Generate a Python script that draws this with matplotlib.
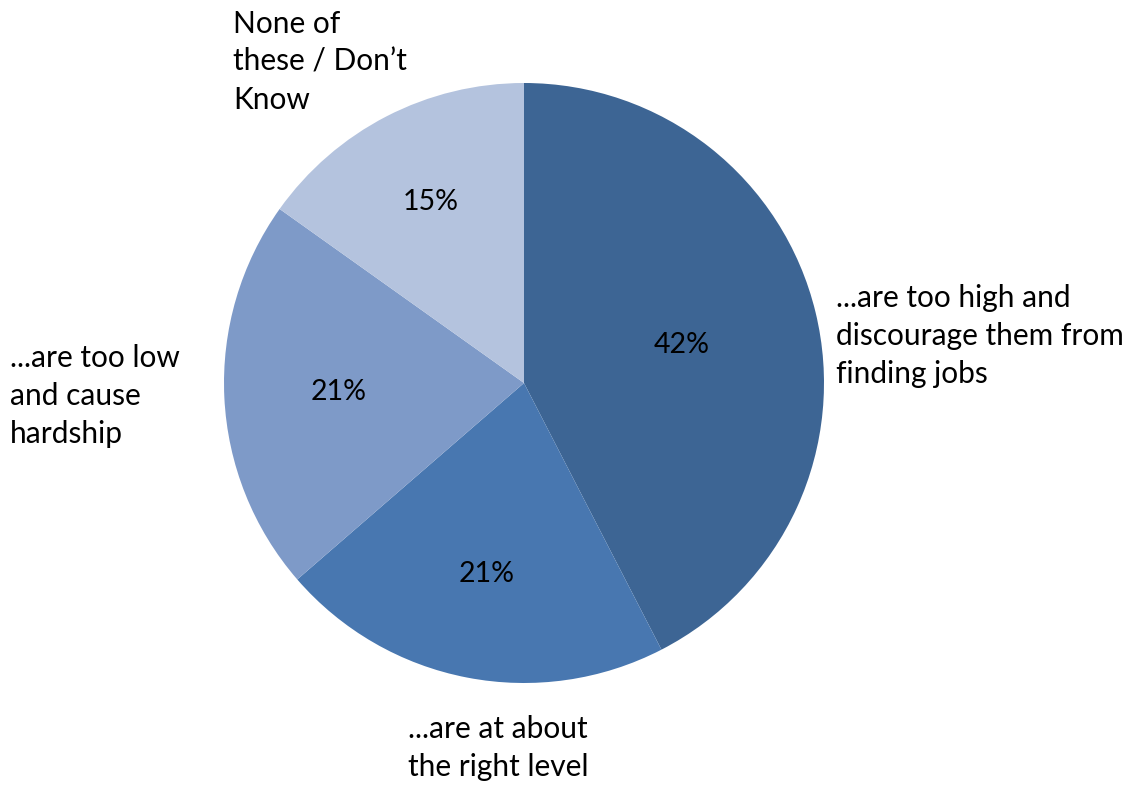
import numpy as np
import matplotlib.pyplot as plt

# survey answers, clockwise from 12 o'clock
categories = ["...are too high and\ndiscourage them from\nfinding jobs",
              "...are at about\nthe right level",
              "...are too low\nand cause\nhardship",
              "None of\nthese / Don\u2019t\nKnow"]
shares = [42, 21, 21, 15]
colors = ["#3D6594", "#4877B0", "#7E9AC8", "#B4C3DE"]

plt.rcParams['font.family'] = ['Lato', 'DejaVu Sans']

fig = plt.figure(figsize=(11.35, 7.87), dpi=100)
ax = fig.add_axes([0, 0, 1, 1])

wedges, _ = ax.pie(shares, colors=colors, startangle=90, counterclock=False,
                   radius=1.0, wedgeprops=dict(linewidth=0))

# percentage labels inside each slice
pct_dist = [0.54, 0.65, 0.62, 0.68]
for w, v, d in zip(wedges, shares, pct_dist):
    ang = np.deg2rad((w.theta1 + w.theta2) / 2)
    ax.text(d * np.cos(ang), d * np.sin(ang), "%d%%" % v,
            ha='center', va='center', fontsize=20.5)

# category labels outside the pie
label_pos = [(1.04, 0.157), (-0.387, -1.217), (-1.713, -0.043), (-0.97, 1.07)]
for (x, y), txt in zip(label_pos, categories):
    ax.text(x, y, txt, ha='left', va='center', fontsize=21.5, linespacing=1.42)

# 1 data unit = 300 px, pie centre at (524, 383) from top-left
ax.set_xlim(-524 / 300, (1135 - 524) / 300)
ax.set_ylim(-(787 - 383) / 300, 383 / 300)
ax.set_aspect('auto')
ax.axis('off')

fig.savefig("out.png", dpi=100)
